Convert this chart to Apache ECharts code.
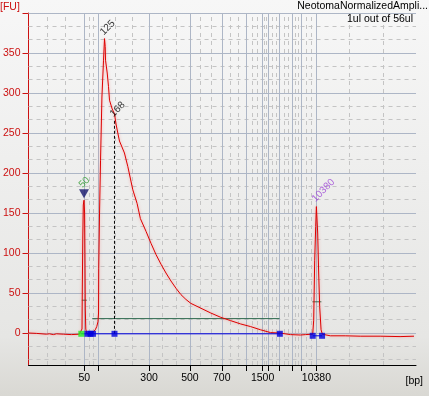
<!DOCTYPE html>
<html>
<head>
<meta charset="utf-8">
<script src="https://cdn.jsdelivr.net/npm/echarts@6/dist/echarts.min.js"></script>
<style>
  html, body { margin: 0; padding: 0; }
  #chart { width: 429px; height: 396px; }
</style>
</head>
<body>
<div id="chart"></div>
<script>
// Electropherogram: fluorescence (FU) against migration time (s).
// The bp axis is a ladder mapping, so ticks sit at the ladder's migration times.

const migTime = [
  40.0, 41.6, 43.6, 44.2, 45.0, 45.6, 47.0, 48.6, 50.2, 50.6,
  50.74, 50.8, 50.9, 51.0, 51.14, 51.26, 51.34, 51.4, 51.5, 51.7,
  52.2, 52.8, 53.4, 53.7, 53.94, 54.06, 54.1, 54.26, 54.46, 54.74,
  55.06, 55.26, 55.4, 55.46, 55.8, 56.06, 56.26, 56.8, 57.26, 57.6,
  58.26, 58.6, 59.26, 59.94, 60.94, 61.8, 62.46, 63.6, 64.6, 65.6,
  66.6, 67.6, 68.6, 69.6, 70.6, 71.6, 72.6, 74.6, 76.6, 78.6,
  80.6, 82.6, 84.6, 86.6, 88.6, 90.4, 92.6, 94.6, 95.6, 97.06,
  97.26, 97.46, 97.66, 97.8, 98.06, 98.26, 98.46, 98.74, 99.0, 100.6,
  103.6, 106.6, 110.6, 114.6, 117.4
];
const fluor = [
  0, -0.5, -1.5, -1, -2, -1, -1.5, -2, -1.5, -1,
  5, 55, 120, 160, 166, 150, 90, 30, 5, -1,
  -1, 0, 4, 8, 14, 25, 81, 150, 216, 295,
  341, 368, 358, 341, 325, 308, 291, 280, 274, 260,
  240, 235, 225, 208, 179, 162, 143, 127, 112, 98,
  86, 75, 65, 56, 48, 42, 37, 31, 25, 19.6,
  15.4, 11.3, 8, 4, 0.5, 0, -2, -2.5, -2, -1.5,
  16, 91, 133, 158, 125, 75, 33, 4, -1.5, -3.5,
  -3.5, -4, -4, -4.5, -4
];

// ladder ticks on the x axis
const ladderBp   = [50, 100, 300, 500, 700, 1000, 1500, 2000, 3000, 5000, 7000, 10380];
const ladderTime = [51.2, 54.0, 64.2, 72.4, 78.8, 83.8, 87.0, 88.2, 90.4, 93.0, 94.8, 97.8];
const labeledBp  = [50, 300, 500, 700, 1500, 10380];

const fuTicks  = [0, 50, 100, 150, 200, 250, 300, 350, 400];
const fuLabels = [0, 50, 100, 150, 200, 250, 300, 350];

// called peaks: [time, FU, label]
const peakCalls = [[55.26, 368, '125'], [57.26, 266, '168']];
const lowerMarker = [51.14, 174, '50'];
const upperMarker = [97.8, 158, '10380'];

// region / baseline markers
const startMarker = [[50.6, -1]];
const blueMarkers = [[51.8, -1], [52.46, -1], [52.94, -1], [57.26, -1], [90.46, -1], [97.06, -3.5], [98.94, -3.5]];
const baseline1 = [[50.6, -1], [90.46, -1]];
const baseline2 = [[97.06, -3.5], [98.94, -3.5]];
const smearRegion = [[52.8, 18], [90.4, 18]];
const lowerWidth = [[50.7, 41], [51.7, 41]];
const upperWidth = [[97.0, 39], [98.8, 39]];

const X_MIN = 40, X_MAX = 117.8, Y_MIN = -40, Y_MAX = 400;
const FONT = 'Liberation Sans';

// grid lines: majors at ticks, dashed minors at thirds
const vMajor = ladderTime.slice();
const vEdges = [X_MIN].concat(ladderTime, [X_MAX]);
const vMinor = [];
for (let i = 0; i < vEdges.length - 1; i++) {
  const d = (vEdges[i + 1] - vEdges[i]) / 3;
  vMinor.push(vEdges[i] + d, vEdges[i] + 2 * d);
}
const hMajor = fuTicks.slice();
const hMinor = [];
for (let k = -2; k < 24; k++) {
  if (k % 3 !== 0) hMinor.push(k * 50 / 3);
}

const gridLines = []
  .concat(vMinor.map(v => ({ xAxis: v, lineStyle: { color: '#c4c4c4', type: [4, 4], width: 1 } })))
  .concat(hMinor.map(v => ({ yAxis: v, lineStyle: { color: '#c4c4c4', type: [4, 4], width: 1 } })))
  .concat(vMajor.map(v => ({ xAxis: v, lineStyle: { color: '#adb6c6', type: 'solid', width: 1 } })))
  .concat(hMajor.map(v => ({ yAxis: v, lineStyle: { color: '#adb6c6', type: 'solid', width: 1 } })));

function bpFor(t) {
  let best = 0;
  ladderTime.forEach((lt, i) => { if (Math.abs(lt - t) < Math.abs(ladderTime[best] - t)) best = i; });
  return String(ladderBp[best]);
}

const rotatedLabel = (color, offset) => ({
  show: true,
  formatter: p => p.data[2],
  position: 'top',
  rotate: 45,
  align: 'left',
  verticalAlign: 'middle',
  offset: offset,
  color: color,
  fontFamily: FONT,
  fontSize: 10
});

const titleText = (color) => ({ fontFamily: FONT, fontSize: 10.5, fontWeight: 'normal', color: color });

const chart = echarts.init(document.getElementById('chart'));
chart.setOption({
  animation: false,
  backgroundColor: new echarts.graphic.LinearGradient(0, 0, 0, 1, [
    { offset: 0, color: '#f7f7f7' },
    { offset: 0.85, color: '#e6e6e4' },
    { offset: 1, color: '#d9d8d3' }
  ]),
  title: [
    { text: 'NeotomaNormalizedAmpli...', right: 1, top: 1, padding: 0, textStyle: titleText('#000') },
    { text: '1ul out of 56ul', right: 16, top: 14, padding: 0, textStyle: titleText('#000') },
    { text: '[FU]', left: 0, top: 2, padding: 0, textStyle: titleText('#cc1111') },
    { text: '[bp]', right: 6, bottom: 9, padding: 0, textStyle: titleText('#000') }
  ],
  grid: { left: 27, right: 13, top: 13, bottom: 31 },
  xAxis: {
    type: 'value', min: X_MIN, max: X_MAX,
    axisLine: { show: true, onZero: false, lineStyle: { color: '#000', width: 1 } },
    axisTick: { show: true, customValues: ladderTime, length: 6, lineStyle: { color: '#000' } },
    axisLabel: {
      customValues: ladderTime.filter((t, i) => labeledBp.indexOf(ladderBp[i]) >= 0),
      formatter: v => bpFor(v),
      color: '#000', fontFamily: FONT, fontSize: 10.5, margin: 8
    },
    splitLine: { show: false }
  },
  yAxis: {
    type: 'value', min: Y_MIN, max: Y_MAX,
    axisLine: { show: true, onZero: false, lineStyle: { color: '#cc1111', width: 1 } },
    axisTick: { show: true, customValues: fuTicks, length: 6, lineStyle: { color: '#cc1111' } },
    axisLabel: { customValues: fuLabels, color: '#cc1111', fontFamily: FONT, fontSize: 10.5, margin: 8 },
    splitLine: { show: false }
  },
  series: [
    {
      name: 'grid', type: 'line', data: [], zlevel: 0, z: 1, silent: true,
      markLine: { silent: true, symbol: 'none', label: { show: false }, data: gridLines, animation: false }
    },
    {
      name: 'smear', type: 'line', data: smearRegion, zlevel: 1, z: 2, symbol: 'none',
      lineStyle: { color: '#2f6b4f', width: 1 }
    },
    {
      name: 'width50', type: 'line', data: lowerWidth, zlevel: 1, z: 2, symbol: 'none',
      lineStyle: { color: '#2f6b4f', width: 1 }
    },
    {
      name: 'width10380', type: 'line', data: upperWidth, zlevel: 1, z: 2, symbol: 'none',
      lineStyle: { color: '#2f6b4f', width: 1 }
    },
    {
      name: 'peakline', type: 'line', data: [[peakCalls[1][0], -1], [peakCalls[1][0], peakCalls[1][1]]],
      zlevel: 1, z: 2, symbol: 'none', lineStyle: { color: '#000', width: 1, type: [3, 2] }
    },
    {
      name: 'signal', type: 'line', zlevel: 1, z: 3, symbol: 'none', smooth: false,
      data: migTime.map((t, i) => [t, fluor[i]]),
      lineStyle: { color: '#dd0000', width: 1, shadowColor: 'rgba(255,90,90,0.55)', shadowBlur: 3 }
    },
    {
      name: 'baseline1', type: 'line', data: baseline1, zlevel: 1, z: 4, symbol: 'none',
      lineStyle: { color: '#0000dd', width: 1 }
    },
    {
      name: 'baseline2', type: 'line', data: baseline2, zlevel: 1, z: 4, symbol: 'none',
      lineStyle: { color: '#0000dd', width: 1 }
    },
    {
      name: 'blueMarks', type: 'scatter', data: blueMarkers, zlevel: 1, z: 5, symbol: 'rect', symbolSize: 6,
      itemStyle: { color: '#0000dd' }
    },
    {
      name: 'startMark', type: 'scatter', data: startMarker, zlevel: 1, z: 5, symbol: 'rect', symbolSize: 6,
      itemStyle: { color: '#22ee22' }
    },
    {
      name: 'lowerMarker', type: 'scatter', data: [lowerMarker], zlevel: 1, z: 6, symbol: 'triangle',
      symbolRotate: 180, symbolSize: [10, 9], itemStyle: { color: '#15156b' },
      label: rotatedLabel('#2e9a2e', [-4, -1])
    },
    {
      name: 'peakLabels', type: 'scatter', data: peakCalls, zlevel: 1, z: 6, symbolSize: 0,
      label: rotatedLabel('#000', [-2, -2])
    },
    {
      name: 'upperLabel', type: 'scatter', data: [upperMarker], zlevel: 1, z: 6, symbolSize: 0,
      label: rotatedLabel('#9a3fd6', [-1, -3])
    }
  ]
});
</script>
</body>
</html>
